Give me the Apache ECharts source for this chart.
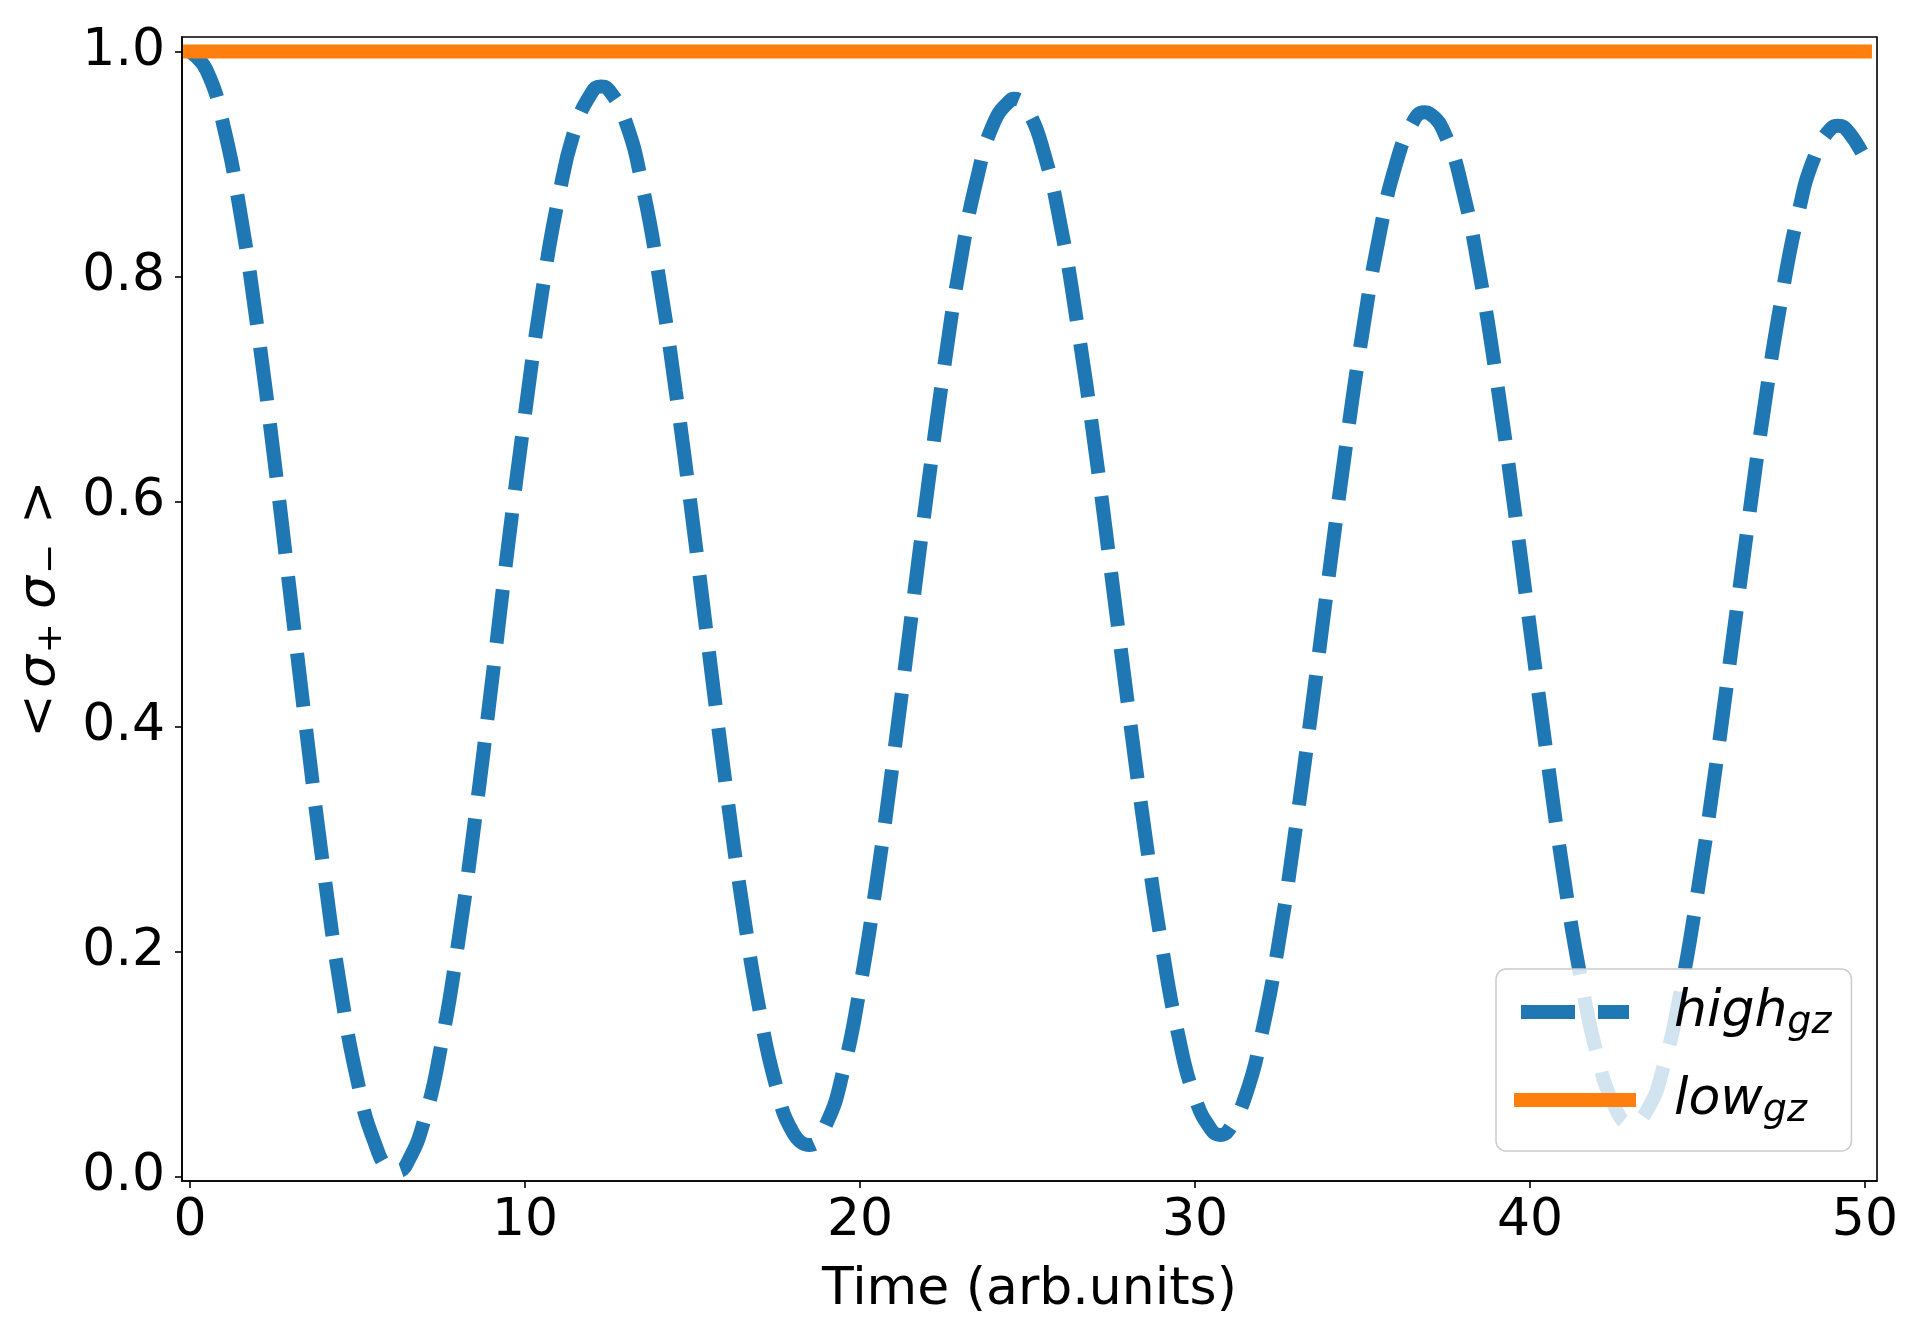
<!DOCTYPE html>
<html>
<head>
<meta charset="utf-8">
<title>sigma+ sigma- vs time</title>
<script src="https://cdn.jsdelivr.net/npm/echarts@6/dist/echarts.min.js"></script>
<style>
  html, body { margin: 0; padding: 0; background: #fff; }
  #chart { width: 1912px; height: 1326px; }
</style>
</head>
<body>
<div id="chart"></div>
<script>
// values (extra points at the turning points)
const time = [0, 0.5, 1, 1.5, 2, 2.5, 3, 3.5, 4, 4.5, 5, 5.5, 6, 6.2, 6.5, 7, 7.5, 8, 8.5, 9, 9.5,
  10, 10.5, 11, 11.5, 12, 12.25, 12.5, 13, 13.5, 14, 14.5, 15, 15.5, 16, 16.5, 17, 17.5, 18, 18.5, 19, 19.5,
  20, 20.5, 21, 21.5, 22, 22.5, 23, 23.5, 24, 24.5, 24.6, 25, 25.5, 26, 26.5, 27, 27.5, 28, 28.5, 29, 29.5,
  30, 30.5, 30.75, 31, 31.5, 32, 32.5, 33, 33.5, 34, 34.5, 35, 35.5, 36, 36.5, 36.85, 37, 37.5, 38, 38.5, 39, 39.5,
  40, 40.5, 41, 41.5, 42, 42.5, 43, 43.5, 44, 44.5, 45, 45.5, 46, 46.5, 47, 47.5, 48, 48.5, 49, 49.2, 49.5, 50];

const highGz = [1.000, 0.983, 0.934, 0.857, 0.757, 0.641, 0.515, 0.389, 0.270, 0.166,
  0.085, 0.031, 0.006, 0.005, 0.013, 0.051, 0.117, 0.207, 0.316, 0.437, 0.562,
  0.678, 0.784, 0.870, 0.932, 0.964, 0.969, 0.966, 0.938, 0.881, 0.799, 0.698,
  0.584, 0.464, 0.346, 0.239, 0.148, 0.080, 0.039, 0.028, 0.047, 0.094,
  0.168, 0.263, 0.372, 0.490, 0.607, 0.717, 0.813, 0.888, 0.937, 0.957, 0.958,
  0.948, 0.909, 0.844, 0.755, 0.651, 0.536, 0.419, 0.307, 0.207, 0.126,
  0.070, 0.041, 0.037, 0.041, 0.071, 0.128, 0.208, 0.308, 0.419, 0.535, 0.648,
  0.750, 0.836, 0.900, 0.937, 0.946, 0.945, 0.924, 0.876, 0.802, 0.709, 0.602,
  0.488, 0.375, 0.269, 0.179, 0.109, 0.064, 0.047, 0.059, 0.099, 0.165,
  0.252, 0.354, 0.465, 0.578, 0.685, 0.779, 0.855, 0.907, 0.932, 0.934, 0.929, 0.905];

const lowTime = [0, 50];
const lowGz = [1, 1];

const xTicks = [0, 10, 20, 30, 40, 50];
const yTicks = [0, 0.2, 0.4, 0.6, 0.8, 1.0];

const FONT = 'DejaVu Sans';
const BLUE = '#1f77b4';
const ORANGE = '#ff7f0e';

const chart = echarts.init(document.getElementById('chart'), null, { renderer: 'canvas' });

const axisCommon = {
  axisLine: { show: true, onZero: false, lineStyle: { color: '#000', width: 1.6 } },
  axisTick: { show: true, length: 7, lineStyle: { color: '#000', width: 1.6 } },
  splitLine: { show: false },
};

const option = {
  backgroundColor: '#fff',
  animation: false,
  grid: {
    left: 182, right: 35, top: 37, bottom: 145,
    show: true, borderColor: '#000', borderWidth: 1.6,
    outerBoundsMode: 'none'
  },
  xAxis: {
    type: 'value',
    min: -0.24,
    max: 50.36,
    ...axisCommon,
    axisTick: { ...axisCommon.axisTick, customValues: xTicks },
    axisLabel: {
      customValues: xTicks,
      margin: 14,
      fontFamily: FONT, fontSize: 52, color: '#000',
      formatter: (v) => String(Math.round(v))
    },
    name: 'Time (arb.units)',
    nameLocation: 'middle',
    nameGap: 83,
    nameTextStyle: { fontFamily: FONT, fontSize: 52, color: '#000' }
  },
  yAxis: {
    type: 'value',
    min: -0.004,
    max: 1.013,
    ...axisCommon,
    axisTick: { ...axisCommon.axisTick, customValues: yTicks },
    axisLabel: {
      customValues: yTicks,
      margin: 17,
      fontFamily: FONT, fontSize: 52, color: '#000',
      formatter: (v) => v.toFixed(1)
    },
    name: '{r|<}{g|σ}{s|+}{g|σ}{s|−}{r|>}',
    nameLocation: 'middle',
    nameRotate: 90,
    nameGap: 112,
    nameTextStyle: {
      fontFamily: FONT, fontSize: 52, color: '#000',
      rich: {
        r: { fontFamily: FONT, fontSize: 52, lineHeight: 60, color: '#000', padding: [0, 6, 0, 6] },
        g: { fontFamily: FONT, fontSize: 52, lineHeight: 60, fontStyle: 'italic', color: '#000' },
        s: { fontFamily: FONT, fontSize: 36, lineHeight: 34, verticalAlign: 'bottom', color: '#000', padding: [0, 14, 0, 2] }
      }
    }
  },
  legend: {
    left: 1496,
    top: 969,
    orient: 'vertical',
    selectedMode: false,
    itemWidth: 108,
    itemHeight: 14,
    itemGap: 32,
    padding: [17, 20, 21, 18],
    backgroundColor: 'rgba(255,255,255,0.8)',
    borderColor: '#cccccc',
    borderWidth: 1.5,
    borderRadius: 10,
    lineStyle: { width: 14 },
    itemStyle: { opacity: 0 },
    data: ['highGz', 'lowGz'],
    formatter: (name) => name === 'highGz' ? '{m|high}{s|gz}' : '{m|low}{s|gz}',
    textStyle: {
      padding: [0, 0, 0, 40],
      rich: {
        m: { fontFamily: FONT, fontSize: 52, lineHeight: 60, fontStyle: 'italic', color: '#000' },
        s: { fontFamily: FONT, fontSize: 38, lineHeight: 36, verticalAlign: 'bottom', fontStyle: 'italic', color: '#000' }
      }
    }
  },
  series: [
    {
      name: 'highGz',
      type: 'line',
      data: time.map((t, i) => [t, highGz[i]]),
      symbol: 'none',
      smooth: 0.5,
      lineStyle: { color: BLUE, width: 14, type: [54, 23], cap: 'butt' },
      itemStyle: { color: BLUE }
    },
    {
      name: 'lowGz',
      type: 'line',
      data: lowTime.map((t, i) => [t, lowGz[i]]),
      symbol: 'none',
      lineStyle: { color: ORANGE, width: 14, type: 'solid', cap: 'square' },
      itemStyle: { color: ORANGE }
    }
  ]
};

chart.setOption(option);
</script>
</body>
</html>
